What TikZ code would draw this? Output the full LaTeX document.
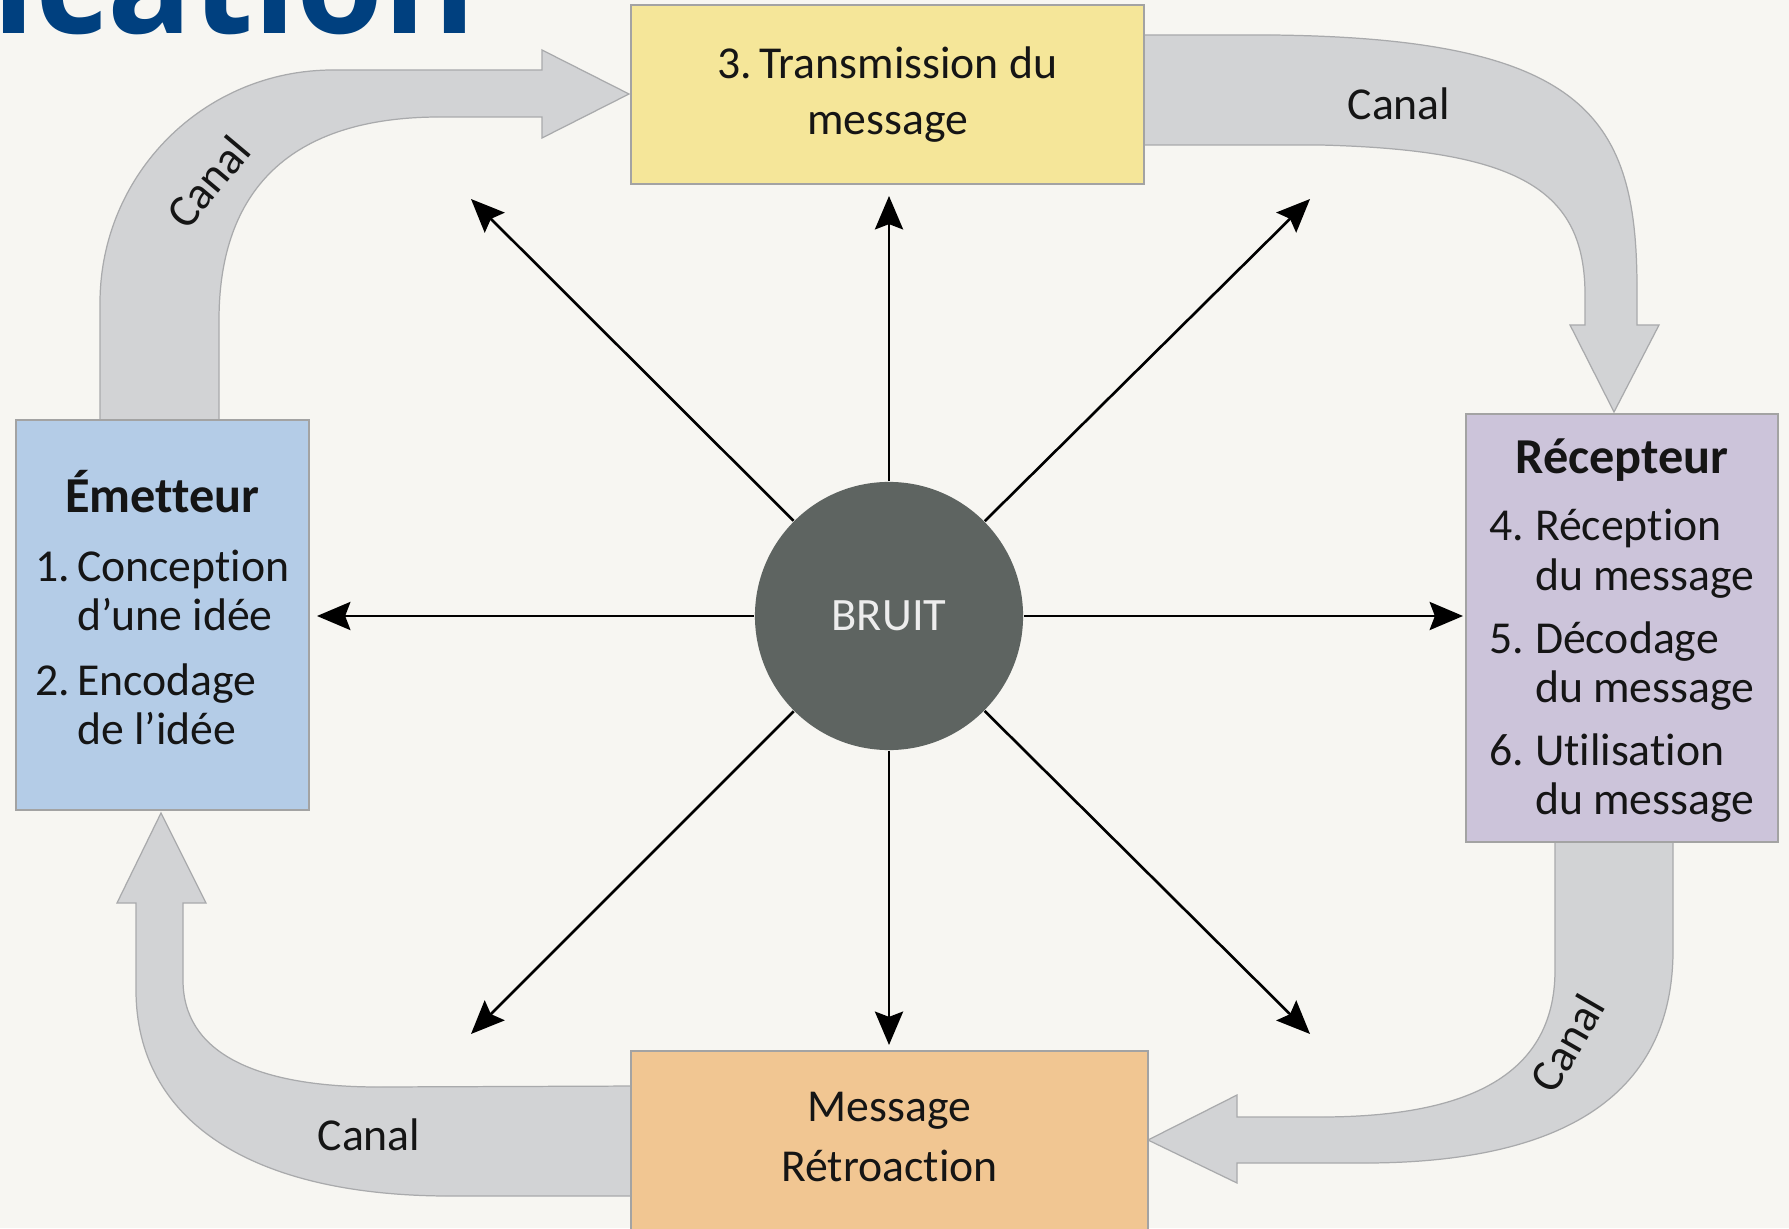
\documentclass[tikz,border=0pt]{standalone}
\usepackage{fontspec}
\setmainfont{Carlito}[Ligatures={NoCommon,NoContextual}]
\newfontfamily\titrefont{Open Sans}
\usetikzlibrary{arrows.meta}

\definecolor{fond}{HTML}{F7F6F2}
\definecolor{titrecol}{HTML}{00407F}
\definecolor{emetcol}{HTML}{B4CCE7}
\definecolor{transcol}{HTML}{F5E699}
\definecolor{recepcol}{HTML}{CCC4DA}
\definecolor{retrocol}{HTML}{F1C692}
\definecolor{canalcol}{HTML}{D2D3D5}
\definecolor{canalbord}{HTML}{A9AAAC}
\definecolor{boxline}{HTML}{A3A3A3}
\definecolor{bruitcol}{HTML}{5E6461}
\definecolor{bruittxt}{HTML}{EDEDED}
\definecolor{txtcol}{HTML}{151515}

\tikzset{
  chan/.style={fill=canalcol, draw=canalbord, line width=0.35pt},
  etape/.style={draw=boxline, line width=0.4pt, inner sep=0pt, text=txtcol,
    font=\fontsize{13}{14}\selectfont},
  canaltxt/.style={text=txtcol, inner sep=0pt, font=\fontsize{13}{14}\selectfont},
  bruitfleche/.style={line width=0.75pt, -{Stealth[length=9.5pt,width=8pt,inset=1.5pt]}}
}

\begin{document}
\begin{tikzpicture}[x=0.01cm, y=-0.01cm]
        \path[use as bounding box, fill=fond] (0,0) rectangle (1789,1228);
        \node[anchor=base west, inner sep=0pt, text=titrecol,
              font=\titrefont\bfseries\fontsize{40}{42}\selectfont] (titre) at (-8,34) {ication};

        % canaux
        \filldraw[chan] (100,430) -- (100,303) .. controls (100,174) and (204,70) .. (333,70) -- (542,70)
            -- (542,50) -- (629,94) -- (542,138) -- (542,117) -- (440,117)
            .. controls (280,117) and (219,200) .. (219,320) -- (219,430) -- cycle;
        \filldraw[chan] (1135,35) -- (1270,35) .. controls (1590,38) and (1637,120) .. (1637,290) -- (1637,325)
            -- (1659,325) -- (1614,412) -- (1570,325) -- (1585,325) -- (1585,295)
            .. controls (1585,190) and (1520,150) .. (1320,145) -- (1135,145) -- cycle;
        \filldraw[chan] (1673,835) -- (1673,950) .. controls (1673,1110) and (1540,1163) .. (1364,1163) -- (1237,1163)
            -- (1237,1183) -- (1148,1140) -- (1237,1095) -- (1237,1117) -- (1320,1117)
            .. controls (1460,1117) and (1555,1080) .. (1555,970) -- (1555,835) -- cycle;
        \filldraw[chan] (640,1196) -- (450,1196) .. controls (250,1196) and (136,1120) .. (136,990) -- (136,903)
            -- (117,903) -- (161,813) -- (206,903) -- (183,903) -- (183,980)
            .. controls (183,1050) and (250,1087) .. (379,1087) -- (640,1086) -- cycle;

        \node[canaltxt, rotate=50] (canal1) at (208,182) {Canal};
        \node[canaltxt] (canal2) at (1399,104) {Canal};
        \node[canaltxt, rotate=60] (canal3) at (1567,1043) {Canal};
        \node[canaltxt] (canal4) at (369,1135) {Canal};

        % etapes
        \node[etape, fill=transcol, minimum width=5.13cm, minimum height=1.79cm, align=center,
              font=\fontsize{13}{16}\selectfont] (trans) at (887.5,94.5) {3.\hspace{0.15em}Transmission du\\message};
        \node[etape, fill=emetcol, minimum width=2.93cm, minimum height=3.90cm] (emet) at (162.5,615) {%
            \begin{tabular}{@{}l@{\hspace{2pt}}l@{}}
            \multicolumn{2}{c}{\rule{0pt}{10.5pt}\fontsize{14.3}{14}\selectfont\bfseries Émetteur}\\[5.5pt]
            1. & Conception\\
               & d’une idée\\[4.5pt]
            2. & Encodage\\
               & de l’idée
            \end{tabular}};
        \node[etape, fill=recepcol, minimum width=3.12cm, minimum height=4.28cm] (recep) at (1622,628) {%
            \begin{tabular}{@{}l@{\hspace{3pt}}l@{}}
            \multicolumn{2}{c}{\rule{0pt}{13.2pt}\fontsize{14.3}{14}\selectfont\bfseries Récepteur}\\[5.3pt]
            4. & Réception\\
               & du message\\[3.9pt]
            5. & Décodage\\
               & du message\\[3.9pt]
            6. & Utilisation\\
               & du message
            \end{tabular}};
        \node[etape, fill=retrocol, minimum width=5.17cm, minimum height=2.0cm] (retro) at (889.5,1151) {};
        \node[canaltxt, align=center, font=\fontsize{13}{16.8}\selectfont] (retrotxt) at (889.5,1137) {Message\\Rétroaction};

        % bruit
        \node[circle, fill=bruitcol, minimum size=2.68cm, inner sep=0pt, text=bruittxt,
              font=\fontsize{13.2}{14}\selectfont] (bruit) at (889,616) {BRUIT};
        \coordinate (haut) at (889,196);
        \coordinate (bas) at (889,1045);
        \coordinate (gauche) at (317,616);
        \coordinate (droite) at (1463,616);
        \coordinate (hg) at (471,199);
        \coordinate (hd) at (1310,199);
        \coordinate (bg) at (471,1034);
        \coordinate (bd) at (1310,1034);
        \foreach \p in {haut,bas,gauche,droite,hg,hd,bg,bd}
            \draw[bruitfleche] (bruit) -- (\p);
\end{tikzpicture}
\end{document}
